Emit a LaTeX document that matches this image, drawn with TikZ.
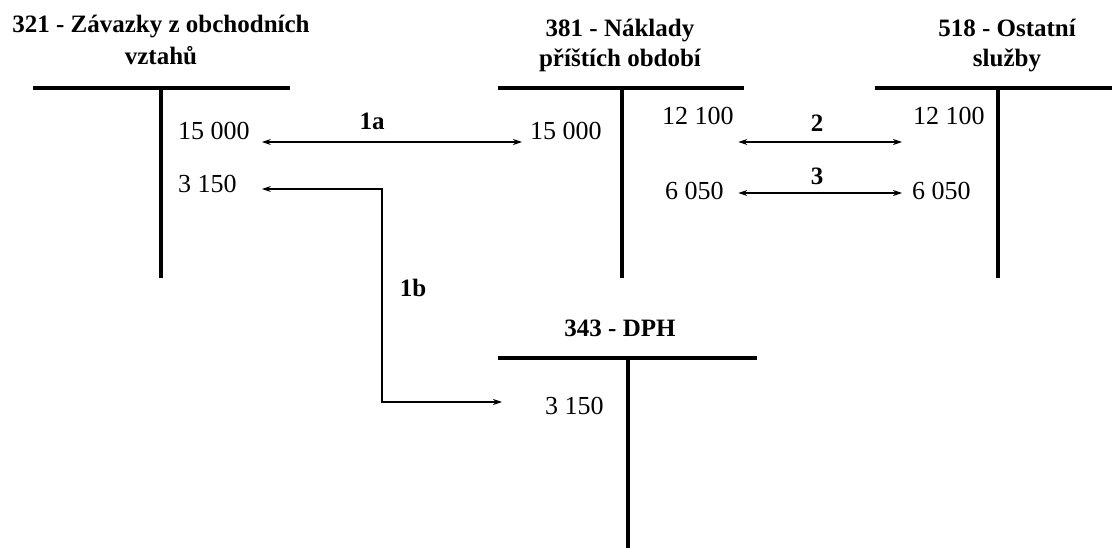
\documentclass[tikz,border=0pt]{standalone}
\usepackage{fontspec}
\setmainfont{Liberation Serif}
\usetikzlibrary{arrows.meta,calc,positioning}

\tikzset{
  tbar/.style={line width=4.5pt},
  amt/.style={font=\fontsize{26}{30}\selectfont, inner sep=0pt, anchor=base west},
  ttl/.style={font=\fontsize{25}{30}\selectfont\bfseries, inner sep=0pt, anchor=base},
  lbl/.style={font=\fontsize{25}{30}\selectfont\bfseries, inner sep=0pt, anchor=base},
  flow/.style={line width=1.1pt, {Stealth[length=9pt,width=6pt]}-{Stealth[length=9pt,width=6pt]}},
}

\begin{document}
\begin{tikzpicture}[x=1pt,y=-1pt]
  \useasboundingbox (0,0) rectangle (1112,548);

  % 321 - zavazky
  \node[ttl] (t321a) at (161,33) {321 - Závazky z obchodních};
  \node[ttl] (t321b) at (161,65) {vztahů};
  \draw[tbar] (33,88) -- (290,88) (161,88) -- (161,278);
  \node[amt] (z1) at (178,140) {15 000};
  \node[amt] (z2) at (178,193) {3 150};

  % 381 - naklady
  \node[ttl] (t381a) at (620,37) {381 - Náklady};
  \node[ttl] (t381b) at (620,67) {příštích období};
  \draw[tbar] (498,88) -- (744,88) (622,88) -- (622,278);
  \node[amt] (n1) at (530,140) {15 000};
  \node[amt] (n2) at (662,125) {12 100};
  \node[amt] (n3) at (665,200) {6 050};

  % 518 - sluzby
  \node[ttl] (t518a) at (1007,37) {518 - Ostatní};
  \node[ttl] (t518b) at (1007,67) {služby};
  \draw[tbar] (875,88) -- (1112,88) (998,88) -- (998,278);
  \node[amt] (s1) at (913,125) {12 100};
  \node[amt] (s2) at (912,200) {6 050};

  % 343 - DPH
  \node[ttl] (t343) at (620,337) {343 - DPH};
  \draw[tbar] (498,358) -- (757,358) (628,358) -- (628,548);
  \node[amt] (d1) at (545,414) {3 150};

  % operace
  \draw[flow] ([shift={(12,2)}]z1.base east) -- ([shift={(-8,2)}]n1.base west);
  \node[lbl] (l1a) at (372,130) {1a};

  \coordinate (k1b) at (382,402);
  \draw[flow] ([shift={(25,-4)}]z2.base east) -| (k1b) -- ([shift={(-43,-12)}]d1.base west);
  \node[lbl] (l1b) at (413,297) {1b};

  \draw[flow] ([shift={(4.5,17)}]n2.base east) -- ([shift={(-11,17)}]s1.base west);
  \node[lbl] (l2) at (817,132) {2};
  \draw[flow] ([shift={(14.5,-7)}]n3.base east) -- ([shift={(-10,-7)}]s2.base west);
  \node[lbl] (l3) at (817,185) {3};
\end{tikzpicture}
\end{document}
